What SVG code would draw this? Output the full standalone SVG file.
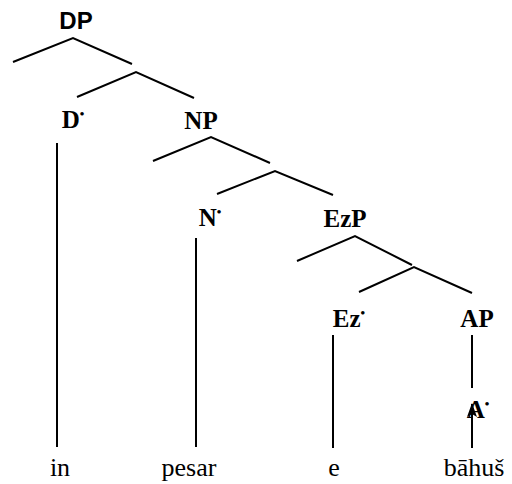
<svg xmlns="http://www.w3.org/2000/svg" width="512" height="484" viewBox="0 0 512 484">
<style>
.lbl{font-family:"Liberation Serif","Times New Roman",serif;font-size:25px;fill:#000;text-anchor:middle;font-weight:bold}
.sans{font-family:"Liberation Sans",Arial,sans-serif;font-size:24px;font-weight:bold}
.word{font-family:"Liberation Serif","Times New Roman",serif;font-size:26px;fill:#000;text-anchor:middle}
.dot{font-size:13px}
.edge{stroke:#000;stroke-width:2;fill:none}
</style>
<defs>
<marker id="ah" markerWidth="14" markerHeight="10" refX="13" refY="5" orient="auto" markerUnits="userSpaceOnUse" viewBox="0 0 14 10">
<path d="M0,0 L14,5 L0,10 L3,5 Z" fill="#000"/>
</marker>
</defs>
<rect width="512" height="484" fill="#fff"/>
<g id="connectors">
<polyline class="edge" points="13,62 73,38 132,64"/>
<polyline class="edge" points="77,97 136,72 194,98"/>
<polyline class="edge" points="153,161 211,137 270,163"/>
<polyline class="edge" points="217,194 275,171 333,195"/>
<polyline class="edge" points="297,261 355,236 412,265"/>
<polyline class="edge" points="359,292 414,267 472,293"/>
<line class="edge" x1="57" y1="143" x2="57" y2="447"/>
<line class="edge" x1="196" y1="238" x2="196" y2="447"/>
<line class="edge" x1="333" y1="335" x2="333" y2="448"/>
<line class="edge" x1="472" y1="335" x2="472" y2="388"/>
<line class="edge" x1="472" y1="448" x2="472" y2="404" marker-end="url(#ah)"/>
</g>
<g id="DP"><text class="lbl sans" x="76" y="29">DP</text></g>
<g id="D0"><text class="lbl" x="73" y="128">D<tspan class="dot" dy="-10">•</tspan></text></g>
<g id="NP"><text class="lbl" x="201" y="129">NP</text></g>
<g id="N0"><text class="lbl" x="210" y="226">N<tspan class="dot" dy="-10">•</tspan></text></g>
<g id="EzP"><text class="lbl" x="345" y="227">EzP</text></g>
<g id="Ez0"><text class="lbl" x="349" y="327">Ez<tspan class="dot" dy="-10">•</tspan></text></g>
<g id="AP"><text class="lbl" x="477" y="327">AP</text></g>
<g id="A0"><text class="lbl" x="478" y="418">A<tspan class="dot" dy="-10">•</tspan></text></g>
<g id="w-in"><text class="word" x="60" y="476">in</text></g>
<g id="w-pesar"><text class="word" x="189" y="476">pesar</text></g>
<g id="w-e"><text class="word" x="334" y="476">e</text></g>
<g id="w-bahus"><text class="word" x="474" y="476">bāhuš</text></g>
</svg>
